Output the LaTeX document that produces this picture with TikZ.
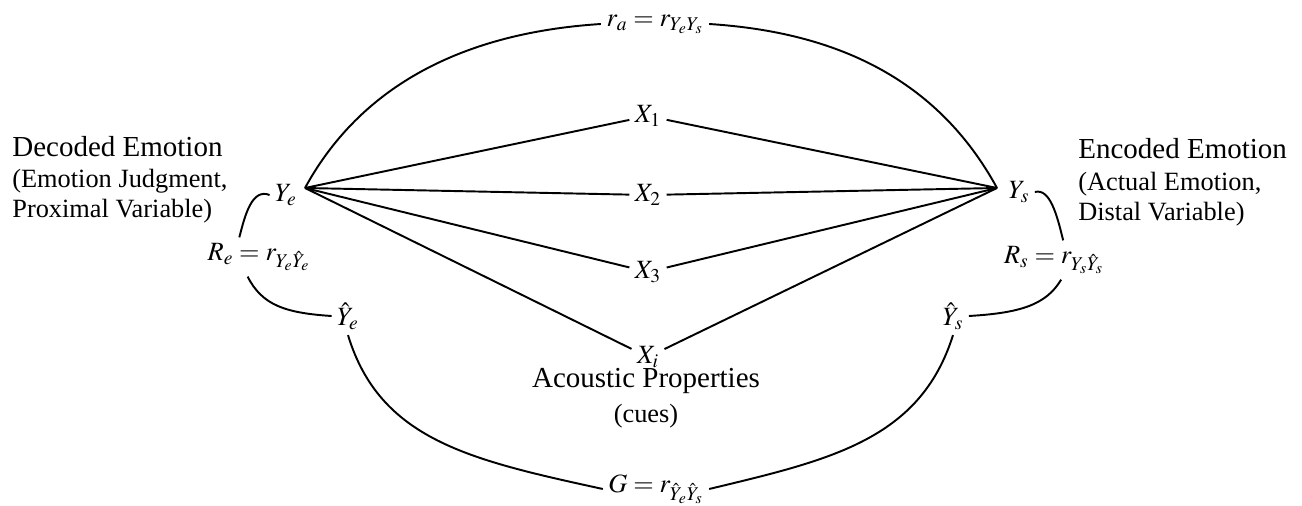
\documentclass[tikz,border=0pt]{standalone}
\usepackage{mathptmx}
\usepackage{fontspec}
\setmainfont{Liberation Serif}
\usetikzlibrary{calc}
\tikzset{
    lens/.style={line width=1.1pt},
    var/.style={inner sep=3pt, font=\fontsize{15}{18}\selectfont},
    bigtext/.style={inner sep=0pt, anchor=base west, font=\fontsize{16.5}{19}\selectfont},
    smalltext/.style={inner sep=0pt, anchor=base west, font=\fontsize{15}{18}\selectfont}
}

\begin{document}
\begin{tikzpicture}[x=0.02cm, y=-0.02cm]
                        \useasboundingbox (0,0) rectangle (1302,506);
                        \coordinate (ye) at (305,188);
                        \coordinate (ys) at (997,188);
                        \node[var] (Ye) at (286,195) {$Y_e$};
                        \node[var] (Ys) at (1019,192) {$Y_s$};
                        \node[var] (Yhe) at (348,316) {$\hat{Y}_e$};
                        \node[var] (Yhs) at (953,316) {$\hat{Y}_s$};
                        \node[var] (Re) at (259,257) {$R_e = r_{Y_e\hat{Y}_e}$};
                        \node[var] (Rs) at (1054,260) {$R_s = r_{Y_s\hat{Y}_s}$};
                        \node[var] (ra) at (655,24) {$r_a = r_{Y_eY_s}$};
                        \node[var] (G) at (656,489) {$G = r_{\hat{Y}_e\hat{Y}_s}$};
                        \node[var] (X1) at (648,116) {$X_1$};
                        \node[var] (X2) at (648,195) {$X_2$};
                        \node[var] (X3) at (648,272) {$X_3$};
                        \node[var] (Xi) at (648,357) {$X_i$};
                        \node[inner sep=0pt, anchor=base, font=\fontsize{16.5}{19}\selectfont] (acou) at (646,388) {Acoustic Properties};
                        \node[inner sep=0pt, anchor=base, font=\fontsize{15}{18}\selectfont] (cues) at (646,423) {(cues)};
                        \node[bigtext] (dec) at (12,157) {Decoded Emotion};
                        \node[smalltext] (dec2) at (12,188) {(Emotion Judgment,};
                        \node[smalltext] (dec3) at (12,218) {Proximal Variable)};
                        \node[bigtext] (enc) at (1078,159) {Encoded Emotion};
                        \node[smalltext] (enc2) at (1078,191) {(Actual Emotion,};
                        \node[smalltext] (enc3) at (1078,221) {Distal Variable)};
                        \foreach \c in {X1,X2,X3,Xi} {
                            \draw[lens] (ye) -- (\c);
                            \draw[lens] (\c) -- (ys);
                        }
                        \draw[lens] (ye) .. controls (365,78) and (475,32) .. (ra.west);
                        \draw[lens] (ra.east) .. controls (835,32) and (937,78) .. (ys);
                        \draw[lens] (Yhe.south) .. controls (380,440) and (470,460) .. (G.west);
                        \draw[lens] (G.east) .. controls (830,460) and (920,440) .. (Yhs.south);
                        \draw[lens] (Ye.west) .. controls (252,188) and (245,215) .. (Re.135);
                        \draw[lens] (Re.-120) .. controls (262,305) and (285,313) .. (Yhe.west);
                        \draw[lens] (Ys.east) .. controls (1050,188) and (1057,215) .. (Rs.65);
                        \draw[lens] (Rs.-70) .. controls (1046,305) and (1020,313) .. (Yhs.east);
                    \end{tikzpicture}
\end{document}
